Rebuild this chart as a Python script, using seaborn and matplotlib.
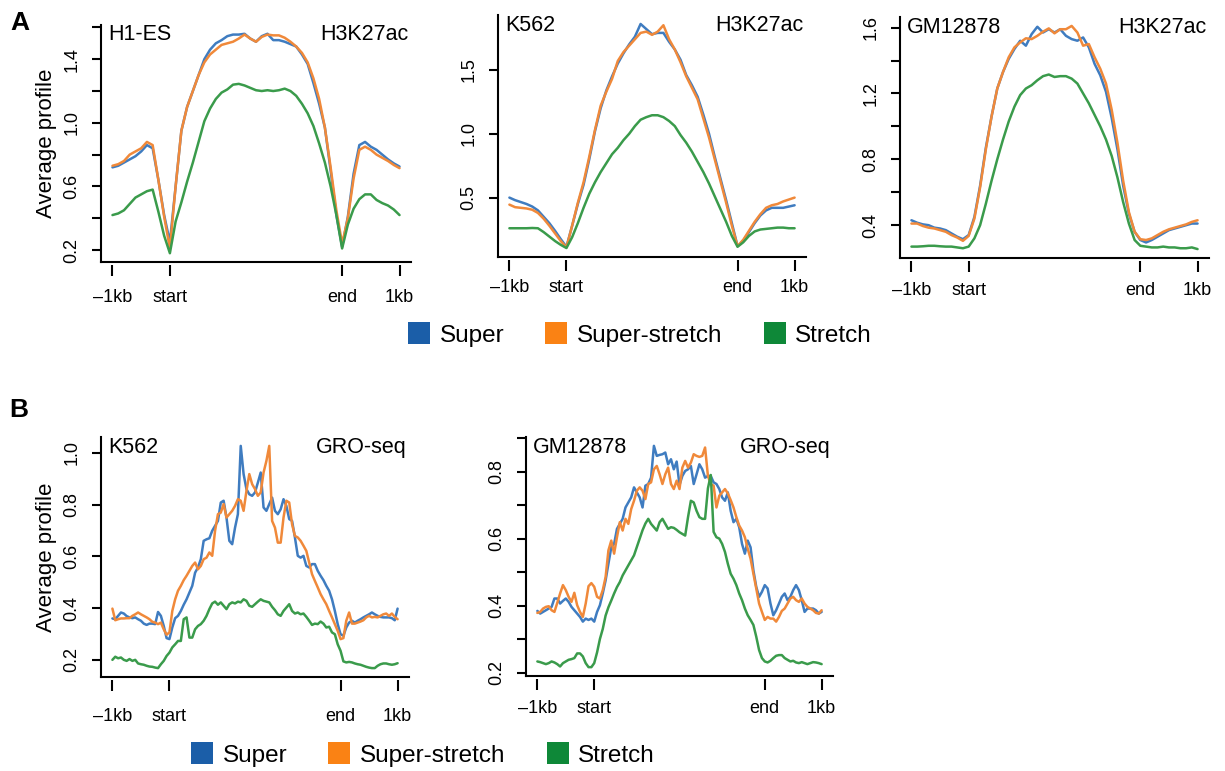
import numpy as np
import pandas as pd
import matplotlib
matplotlib.use('Agg')
import matplotlib.pyplot as plt
from matplotlib.patches import Patch
import seaborn as sns

# positions: -1kb .. start .. end .. 1kb (flank 20 bins, body 60 bins)
pos_h3 = np.arange(0, 101, 2)
pos_gro = np.arange(0, 101, 1)
edge_ticks = [0, 20, 80, 100]
edge_labels = ['\u20131kb', 'start', 'end', '1kb']

groups = ['Super', 'Super-stretch', 'Stretch']
line_colors = ['#3f7cc0', '#f0893a', '#3a9b4b']
box_colors = ['#1b5ea8', '#fa8214', '#0e8838']

# ---- A: H3K27ac ----
h1_super = [0.72, 0.73, 0.75, 0.77, 0.79, 0.82, 0.86, 0.84, 0.64, 0.42, 0.25,
            0.6, 0.95, 1.1, 1.2, 1.3, 1.4, 1.46, 1.5, 1.52, 1.545,
            1.555, 1.555, 1.56, 1.53, 1.51, 1.545, 1.56, 1.52, 1.52, 1.51,
            1.495, 1.48, 1.43, 1.37, 1.25, 1.12, 0.97, 0.7, 0.42, 0.22,
            0.41, 0.68, 0.86, 0.88, 0.85, 0.83, 0.8, 0.77, 0.745, 0.725]
h1_superstretch = [0.73, 0.74, 0.76, 0.80, 0.82, 0.84, 0.88, 0.86, 0.64, 0.41, 0.21,
                   0.6, 0.95, 1.1, 1.2, 1.3, 1.38, 1.43, 1.46, 1.49, 1.5,
                   1.51, 1.53, 1.555, 1.53, 1.51, 1.54, 1.555, 1.55, 1.55, 1.535,
                   1.51, 1.48, 1.44, 1.38, 1.28, 1.15, 0.97, 0.72, 0.45, 0.24,
                   0.4, 0.65, 0.83, 0.85, 0.83, 0.8, 0.78, 0.76, 0.735, 0.715]
h1_stretch = [0.42, 0.43, 0.45, 0.49, 0.53, 0.55, 0.57, 0.58, 0.44, 0.29, 0.18,
              0.38, 0.5, 0.63, 0.75, 0.88, 1.01, 1.09, 1.15, 1.19, 1.21,
              1.24, 1.245, 1.235, 1.22, 1.205, 1.2, 1.205, 1.2, 1.205, 1.215,
              1.2, 1.17, 1.12, 1.06, 0.98, 0.87, 0.75, 0.6, 0.42, 0.21,
              0.36, 0.46, 0.52, 0.55, 0.55, 0.515, 0.495, 0.48, 0.455, 0.42]

k562_h3_super = [0.50, 0.48, 0.465, 0.45, 0.43, 0.40, 0.35, 0.30, 0.24, 0.175, 0.115,
                 0.28, 0.45, 0.6, 0.8, 1.02, 1.2, 1.34, 1.45, 1.55, 1.63,
                 1.7, 1.76, 1.86, 1.82, 1.78, 1.79, 1.79, 1.72, 1.66, 1.58,
                 1.46, 1.38, 1.29, 1.15, 1.0, 0.82, 0.65, 0.48, 0.3, 0.12,
                 0.16, 0.23, 0.3, 0.36, 0.4, 0.42, 0.42, 0.42, 0.43, 0.44]
k562_h3_superstretch = [0.445, 0.425, 0.42, 0.415, 0.405, 0.38, 0.335, 0.28, 0.22, 0.16, 0.11,
                        0.28, 0.46, 0.62, 0.82, 1.03, 1.22, 1.33, 1.43, 1.57, 1.64,
                        1.69, 1.74, 1.79, 1.8, 1.775, 1.8, 1.85, 1.74, 1.66, 1.56,
                        1.45, 1.36, 1.27, 1.12, 0.97, 0.8, 0.63, 0.46, 0.28, 0.12,
                        0.17, 0.24, 0.31, 0.37, 0.42, 0.44, 0.45, 0.47, 0.485, 0.5]
k562_h3_stretch = [0.26, 0.26, 0.26, 0.26, 0.262, 0.26, 0.23, 0.195, 0.16, 0.13, 0.105,
                   0.19, 0.3, 0.42, 0.53, 0.62, 0.7, 0.77, 0.84, 0.89, 0.95,
                   1.0, 1.06, 1.11, 1.13, 1.145, 1.145, 1.13, 1.1, 1.06, 0.99,
                   0.93, 0.86, 0.78, 0.7, 0.61, 0.51, 0.41, 0.31, 0.2, 0.115,
                   0.15, 0.2, 0.235, 0.25, 0.255, 0.26, 0.265, 0.265, 0.26, 0.26]

gm_h3_super = [0.43, 0.415, 0.405, 0.4, 0.385, 0.38, 0.37, 0.35, 0.33, 0.315, 0.34,
               0.45, 0.64, 0.87, 1.06, 1.23, 1.33, 1.41, 1.47, 1.52, 1.49,
               1.56, 1.605, 1.57, 1.59, 1.57, 1.59, 1.55, 1.53, 1.52, 1.54,
               1.48, 1.38, 1.31, 1.21, 1.05, 0.86, 0.64, 0.47, 0.36, 0.31,
               0.295, 0.31, 0.33, 0.35, 0.37, 0.38, 0.39, 0.4, 0.41, 0.41]
gm_h3_superstretch = [0.41, 0.41, 0.395, 0.385, 0.38, 0.37, 0.36, 0.34, 0.325, 0.305, 0.335,
                      0.44, 0.63, 0.86, 1.06, 1.23, 1.33, 1.42, 1.48, 1.51, 1.535,
                      1.53, 1.55, 1.575, 1.595, 1.565, 1.59, 1.59, 1.61, 1.57, 1.49,
                      1.5, 1.42, 1.35, 1.26, 1.1, 0.9, 0.67, 0.48, 0.36, 0.315,
                      0.31, 0.32, 0.34, 0.36, 0.375, 0.385, 0.395, 0.405, 0.42, 0.43]
gm_h3_stretch = [0.27, 0.27, 0.272, 0.275, 0.275, 0.272, 0.27, 0.27, 0.265, 0.26, 0.27,
                 0.32, 0.4, 0.53, 0.67, 0.8, 0.92, 1.03, 1.12, 1.19, 1.23,
                 1.25, 1.28, 1.305, 1.315, 1.3, 1.305, 1.305, 1.29, 1.26, 1.2,
                 1.14, 1.07, 1.0, 0.92, 0.82, 0.69, 0.54, 0.41, 0.31, 0.275,
                 0.27, 0.265, 0.265, 0.27, 0.265, 0.265, 0.26, 0.26, 0.265, 0.255]

# ---- B: GRO-seq ----
k562_gro_super = [0.36, 0.357, 0.37, 0.383, 0.379, 0.369, 0.364, 0.361, 0.364, 0.357,
                  0.351, 0.34, 0.335, 0.34, 0.34, 0.338, 0.385, 0.37, 0.331, 0.284,
                  0.28, 0.325, 0.361, 0.37, 0.389, 0.413, 0.434, 0.46, 0.486, 0.537,
                  0.557, 0.589, 0.66, 0.666, 0.67, 0.699, 0.718, 0.737, 0.808, 0.815,
                  0.75, 0.66, 0.647, 0.711, 0.763, 1.027, 0.918, 0.86, 0.84, 0.834,
                  0.847, 0.885, 0.924, 0.789, 0.776, 0.802, 0.827, 0.776, 0.763, 0.782,
                  0.821, 0.795, 0.744, 0.737, 0.673, 0.602, 0.595, 0.602, 0.563, 0.557,
                  0.57, 0.57, 0.544, 0.525, 0.508, 0.486, 0.467, 0.434, 0.389, 0.338,
                  0.299, 0.293, 0.325, 0.344, 0.351, 0.344, 0.351, 0.357, 0.364, 0.37,
                  0.376, 0.383, 0.376, 0.37, 0.366, 0.364, 0.364, 0.364, 0.361, 0.353,
                  0.398]
k562_gro_superstretch = [0.398, 0.353, 0.357, 0.36, 0.36, 0.361, 0.361, 0.37, 0.376, 0.383,
                         0.376, 0.37, 0.364, 0.357, 0.347, 0.344, 0.338, 0.344, 0.318, 0.297,
                         0.306, 0.389, 0.434, 0.467, 0.486, 0.508, 0.525, 0.544, 0.563, 0.576,
                         0.55, 0.563, 0.589, 0.595, 0.615, 0.602, 0.699, 0.763, 0.769, 0.802,
                         0.75, 0.763, 0.776, 0.795, 0.821, 0.815, 0.776, 0.853, 0.918, 0.879,
                         0.86, 0.834, 0.847, 0.924, 0.969, 1.027, 0.737, 0.711, 0.653, 0.653,
                         0.75, 0.815, 0.808, 0.724, 0.679, 0.673, 0.66, 0.641, 0.621, 0.576,
                         0.531, 0.505, 0.48, 0.454, 0.434, 0.415, 0.389, 0.364, 0.338, 0.312,
                         0.28, 0.284, 0.351, 0.383, 0.34, 0.34, 0.344, 0.348, 0.353, 0.364,
                         0.37, 0.364, 0.366, 0.364, 0.37, 0.376, 0.379, 0.37, 0.379, 0.366,
                         0.357]
k562_gro_stretch = [0.2, 0.212, 0.206, 0.209, 0.2, 0.196, 0.203, 0.196, 0.2, 0.186,
                    0.183, 0.181, 0.177, 0.174, 0.173, 0.17, 0.168, 0.183, 0.196, 0.215,
                    0.228, 0.248, 0.26, 0.273, 0.273, 0.357, 0.364, 0.286, 0.286, 0.318,
                    0.331, 0.338, 0.351, 0.37, 0.396, 0.418, 0.425, 0.413, 0.422, 0.409,
                    0.396, 0.415, 0.422, 0.418, 0.425, 0.422, 0.434, 0.428, 0.409, 0.405,
                    0.415, 0.425, 0.434, 0.428, 0.425, 0.422, 0.405, 0.392, 0.376, 0.37,
                    0.389, 0.402, 0.415, 0.389, 0.379, 0.383, 0.376, 0.379, 0.366, 0.351,
                    0.335, 0.34, 0.338, 0.348, 0.34, 0.325, 0.328, 0.306, 0.299, 0.26,
                    0.235, 0.194, 0.19, 0.192, 0.19, 0.186, 0.183, 0.181, 0.177, 0.173,
                    0.17, 0.168, 0.168, 0.177, 0.183, 0.186, 0.186, 0.183, 0.181, 0.183,
                    0.187]

gm_gro_super = [0.384, 0.376, 0.381, 0.386, 0.391, 0.396, 0.421, 0.421, 0.406, 0.414,
                0.421, 0.411, 0.396, 0.386, 0.376, 0.366, 0.352, 0.361, 0.357, 0.361,
                0.352, 0.381, 0.401, 0.436, 0.475, 0.525, 0.574, 0.584, 0.629, 0.644,
                0.659, 0.693, 0.708, 0.723, 0.753, 0.738, 0.723, 0.693, 0.758, 0.763,
                0.782, 0.877, 0.847, 0.85, 0.852, 0.857, 0.822, 0.837, 0.807, 0.83,
                0.76, 0.787, 0.802, 0.807, 0.817, 0.763, 0.792, 0.822, 0.807, 0.782,
                0.787, 0.787, 0.768, 0.763, 0.748, 0.723, 0.713, 0.738, 0.683, 0.649,
                0.659, 0.634, 0.584, 0.555, 0.594, 0.574, 0.505, 0.456, 0.426, 0.441,
                0.461, 0.451, 0.406, 0.371, 0.386, 0.406, 0.426, 0.436, 0.416, 0.426,
                0.446, 0.461, 0.446, 0.416, 0.381, 0.391, 0.391, 0.391, 0.386, 0.376,
                0.381]
gm_gro_superstretch = [0.378, 0.381, 0.391, 0.396, 0.398, 0.386, 0.381, 0.408, 0.436, 0.461,
                       0.446, 0.426, 0.411, 0.438, 0.401, 0.381, 0.366, 0.406, 0.458, 0.467,
                       0.456, 0.426, 0.421, 0.446, 0.485, 0.565, 0.594, 0.555, 0.604, 0.649,
                       0.624, 0.659, 0.644, 0.688, 0.713, 0.743, 0.753, 0.743, 0.718, 0.763,
                       0.768, 0.807, 0.817, 0.792, 0.763, 0.792, 0.812, 0.763, 0.748, 0.773,
                       0.748, 0.812, 0.832, 0.812, 0.827, 0.852, 0.847, 0.844, 0.847, 0.872,
                       0.787, 0.763, 0.758, 0.693, 0.728, 0.738, 0.748, 0.735, 0.715, 0.693,
                       0.664, 0.639, 0.624, 0.604, 0.57, 0.54, 0.495, 0.451, 0.406, 0.381,
                       0.357, 0.366, 0.361, 0.361, 0.352, 0.366, 0.384, 0.391, 0.406, 0.421,
                       0.426, 0.416, 0.411, 0.421, 0.406, 0.396, 0.391, 0.386, 0.378, 0.376,
                       0.386]
gm_gro_stretch = [0.233, 0.231, 0.228, 0.225, 0.228, 0.233, 0.23, 0.225, 0.218, 0.228,
                  0.233, 0.238, 0.24, 0.243, 0.257, 0.257, 0.248, 0.228, 0.216, 0.216,
                  0.228, 0.26, 0.3, 0.33, 0.37, 0.395, 0.415, 0.436, 0.455, 0.47,
                  0.49, 0.505, 0.52, 0.535, 0.55, 0.575, 0.6, 0.625, 0.645, 0.659,
                  0.644, 0.634, 0.624, 0.649, 0.659, 0.644, 0.629, 0.634, 0.632, 0.626,
                  0.619, 0.614, 0.609, 0.664, 0.713, 0.708, 0.683, 0.664, 0.659, 0.659,
                  0.75, 0.79, 0.62, 0.604, 0.6, 0.584, 0.56, 0.525, 0.495, 0.48,
                  0.461, 0.436, 0.416, 0.391, 0.371, 0.357, 0.342, 0.307, 0.267, 0.243,
                  0.233, 0.23, 0.235, 0.243, 0.25, 0.252, 0.252, 0.243, 0.238, 0.233,
                  0.235, 0.23, 0.228, 0.231, 0.228, 0.225, 0.228, 0.231, 0.23, 0.228,
                  0.225]

# y ticks and which of them carry labels
h1_yticks = [0.2, 0.4, 0.6, 0.8, 1.0, 1.2, 1.4, 1.6]
h1_ylabels = ['0.2', '', '0.6', '', '1.0', '', '1.4', '']
k562_h3_yticks = [0.5, 1.0, 1.5]
k562_h3_ylabels = ['0.5', '1.0', '1.5']
gm_h3_yticks = [0.4, 0.6, 0.8, 1.0, 1.2, 1.4, 1.6]
gm_h3_ylabels = ['0.4', '', '0.8', '', '1.2', '', '1.6']
k562_gro_yticks = [0.2, 0.4, 0.6, 0.8, 1.0]
k562_gro_ylabels = ['0.2', '0.4', '0.6', '0.8', '1.0']
gm_gro_yticks = [0.2, 0.3, 0.4, 0.5, 0.6, 0.7, 0.8, 0.9]
gm_gro_ylabels = ['0.2', '', '0.4', '', '0.6', '', '0.8', '']

sns.set_theme(style='white')
plt.rcParams['font.family'] = ['Liberation Sans', 'DejaVu Sans']
plt.rcParams['text.color'] = 'black'
plt.rcParams['axes.labelcolor'] = 'black'
plt.rcParams['xtick.color'] = 'black'
plt.rcParams['ytick.color'] = 'black'

W, H = 1225, 771
fig = plt.figure(figsize=(W / 100, H / 100), dpi=100)


def panel(rect_px, pos, curves, yticks, ylabels, left_title, right_title,
          xpad, ylab=False):
    l, t, r, b = rect_px
    ax = fig.add_axes([l / W, 1 - b / H, (r - l) / W, (b - t) / H])
    df = pd.DataFrame({
        'pos': np.tile(pos, 3),
        'value': np.concatenate(curves),
        'group': np.repeat(groups, len(pos)),
    })
    sns.lineplot(data=df, x='pos', y='value', hue='group', hue_order=groups,
                 palette=line_colors, linewidth=1.8, legend=False, ax=ax)
    ax.margins(x=0.04, y=0.04)
    ax.autoscale_view()
    ax.set_xlabel('')
    ax.set_ylabel('')
    for s in ['top', 'right']:
        ax.spines[s].set_visible(False)
    for s in ['left', 'bottom']:
        ax.spines[s].set_color('black')
        ax.spines[s].set_linewidth(1.5)
    ax.set_yticks(yticks, ylabels)
    ax.tick_params(axis='y', left=True, length=6.7, width=1.5, labelsize=13,
                   pad=8, labelrotation=90, color='black', labelcolor='black')
    for lab in ax.get_yticklabels():
        lab.set_va('center')
    ax.tick_params(axis='x', bottom=False, labelbottom=False)
    # x ticks drawn a little below the box line
    sec = ax.secondary_xaxis(-3 / (b - t))
    sec.spines['bottom'].set_visible(False)
    sec.set_xticks(edge_ticks, edge_labels)
    sec.tick_params(axis='x', bottom=True, length=8, width=1.5, labelsize=13,
                    pad=xpad, color='black', labelcolor='black')
    ax.text(0.022, 0.935, left_title, transform=ax.transAxes, fontsize=15.5,
            ha='left', va='baseline')
    ax.text(0.992, 0.935, right_title, transform=ax.transAxes, fontsize=15.5,
            ha='right', va='baseline')
    if ylab:
        ax.set_ylabel('Average profile', fontsize=16, labelpad=5)
    return ax


panel((101, 25, 411, 262), pos_h3, [h1_super, h1_superstretch, h1_stretch],
      h1_yticks, h1_ylabels, 'H1-ES', 'H3K27ac', 9, ylab=True)
panel((498, 15, 806, 257), pos_h3, [k562_h3_super, k562_h3_superstretch, k562_h3_stretch],
      k562_h3_yticks, k562_h3_ylabels, 'K562', 'H3K27ac', 6)
panel((900, 17, 1209, 258), pos_h3, [gm_h3_super, gm_h3_superstretch, gm_h3_stretch],
      gm_h3_yticks, gm_h3_ylabels, 'GM12878', 'H3K27ac', 7)
panel((101, 437, 409, 677), pos_gro, [k562_gro_super, k562_gro_superstretch, k562_gro_stretch],
      k562_gro_yticks, k562_gro_ylabels, 'K562', 'GRO-seq', 12.5, ylab=True)
panel((526, 437, 833, 676), pos_gro, [gm_gro_super, gm_gro_superstretch, gm_gro_stretch],
      gm_gro_yticks, gm_gro_ylabels, 'GM12878', 'GRO-seq', 7)

handles = [Patch(facecolor=c, edgecolor='none', label=g) for g, c in zip(groups, box_colors)]
for cx, cy in [(640 / W, 1 - 334.5 / H), (423 / W, 1 - 754.5 / H)]:
    fig.legend(handles=handles, loc='center', bbox_to_anchor=(cx, cy), ncol=3,
               frameon=False, fontsize=17.5, handlelength=0.9, handleheight=1.0,
               handletextpad=0.4, columnspacing=1.7, borderpad=0, borderaxespad=0)

fig.text(10 / W, 1 - 30 / H, 'A', fontsize=19, fontweight='bold', va='baseline')
fig.text(9 / W, 1 - 417 / H, 'B', fontsize=19, fontweight='bold', va='baseline')

fig.savefig('out.png', dpi=100)
